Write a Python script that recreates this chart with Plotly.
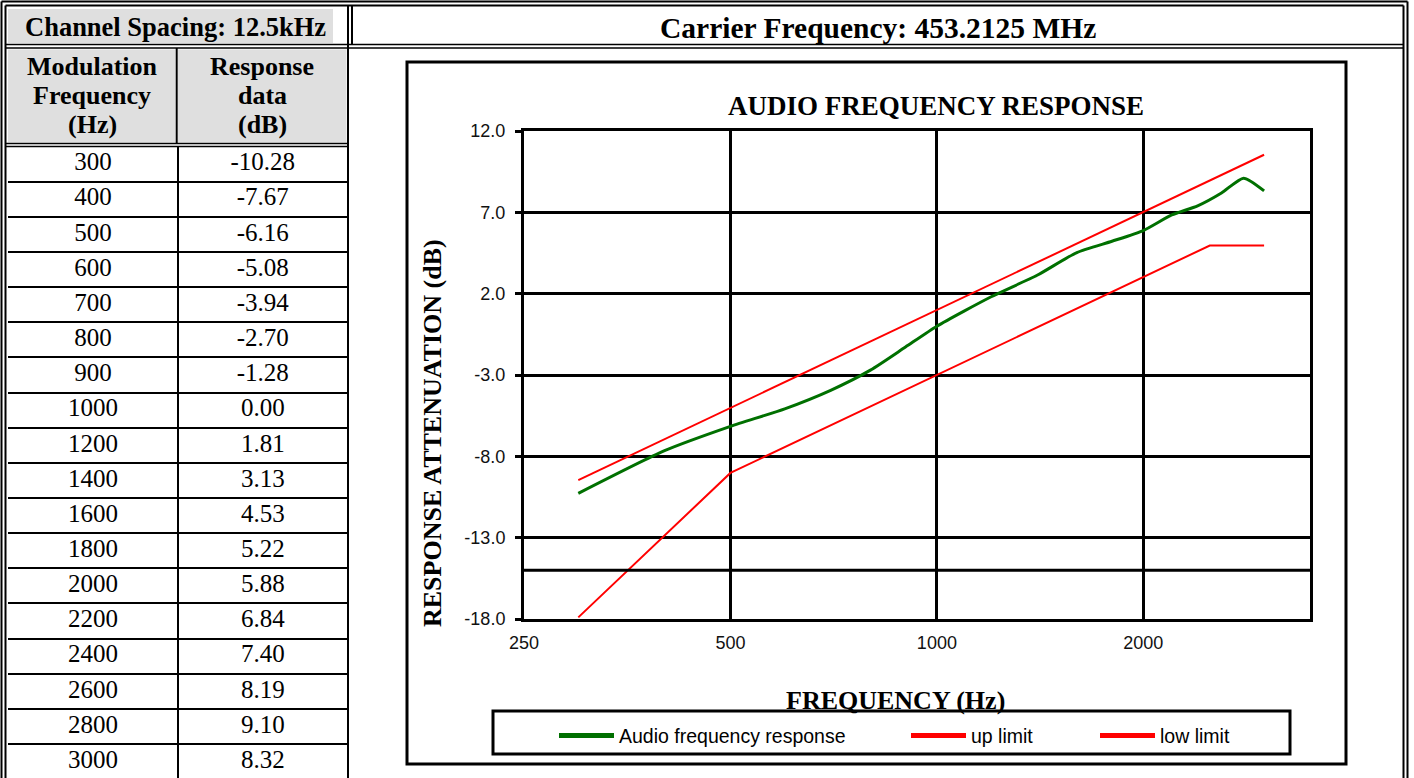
import numpy as np
import plotly.graph_objects as go

# table values (left side of the sheet)
mod_freq_hz = [300, 400, 500, 600, 700, 800, 900, 1000, 1200, 1400,
               1600, 1800, 2000, 2200, 2400, 2600, 2800, 3000]
response_db = [-10.28, -7.67, -6.16, -5.08, -3.94, -2.70, -1.28, 0.00, 1.81, 3.13,
               4.53, 5.22, 5.88, 6.84, 7.40, 8.19, 9.10, 8.32]

# limit masks
up_limit_freq_hz = [300, 3000]
up_limit_db = [-9.46, 10.54]
low_limit_freq_hz = [300, 400, 500, 2500, 3000]
low_limit_db = [-17.9, -12.9, -9.02, 4.96, 4.96]

x_ticks = [250, 500, 1000, 2000]
y_ticks = [-18, -13, -8, -3, 2, 7, 12]
extra_grid_db = [-15.0]

W, H = 1414, 778
SERIF = "Liberation Serif, Times New Roman, serif"
SANS = "Liberation Sans, Arial, sans-serif"
GRAY = "#dfdfdf"
GREEN = "#007000"
RED = "#ff0000"


def fx(px):
    return px / W


def fy(py):
    return 1 - py / H


def hline(y, x0, x1, w=2):
    return dict(type="line", xref="paper", yref="paper", x0=fx(x0), x1=fx(x1),
                y0=fy(y), y1=fy(y), line=dict(color="black", width=w))


def vline(x, y0, y1, w=2):
    return dict(type="line", xref="paper", yref="paper", x0=fx(x), x1=fx(x),
                y0=fy(y0), y1=fy(y1), line=dict(color="black", width=w))


def rect(x0, y0, x1, y1, fill=None, w=0):
    return dict(type="rect", xref="paper", yref="paper", x0=fx(x0), x1=fx(x1),
                y0=fy(y1), y1=fy(y0), fillcolor=fill or "rgba(0,0,0,0)",
                line=dict(color="black", width=w), layer="below" if fill else "above")


def label(text, x, y, size, bold=True, angle=0, family=SERIF):
    return dict(text=text, xref="paper", yref="paper", x=fx(x), y=fy(y),
                xanchor="center", yanchor="middle", showarrow=False, textangle=angle,
                font=dict(family=family, size=size, color="black",
                          weight="bold" if bold else "normal"))


fig = go.Figure()

# chart traces
fig.add_trace(go.Scatter(x=mod_freq_hz, y=response_db, mode="lines", showlegend=False,
                         line=dict(color=GREEN, width=3, shape="spline", smoothing=0.6)))
fig.add_trace(go.Scatter(x=up_limit_freq_hz, y=up_limit_db, mode="lines", showlegend=False,
                         line=dict(color=RED, width=2)))
fig.add_trace(go.Scatter(x=low_limit_freq_hz, y=low_limit_db, mode="lines", showlegend=False,
                         line=dict(color=RED, width=2)))

# legend keys drawn heavier, as in the original sheet
for name, color, leg in [("Audio frequency response", GREEN, "legend"),
                         ("up limit", RED, "legend2"),
                         ("low limit", RED, "legend3")]:
    fig.add_trace(go.Scatter(x=[None], y=[None], mode="lines", name=name, legend=leg,
                             line=dict(color=color, width=5)))

# table body as text on its own axes
n = len(mod_freq_hz)
rows = list(range(n))
fig.add_trace(go.Scatter(
    x=[0] * n + [1] * n, y=rows + rows,
    text=[str(f) for f in mod_freq_hz] + [f"{v:.2f}" for v in response_db],
    mode="text", textfont=dict(family=SERIF, size=25, color="black"),
    xaxis="x2", yaxis="y2", showlegend=False, hoverinfo="skip"))

row_h = 35.15
body_top = 146.5

shapes = [
    # header shading
    rect(8, 9, 333, 43, fill=GRAY),
    rect(8, 49.5, 175.5, 142.5, fill=GRAY),
    rect(178, 49.5, 346.5, 142.5, fill=GRAY),
    # outer double border
    vline(1.5, 1.5, H + 5), hline(1.5, 1.5, 1407.5), vline(1407.5, 1.5, H + 5),
    vline(5.5, 5.5, H + 5), hline(5.5, 5.5, 1403.5), vline(1403.5, 5.5, H + 5),
    # header separators
    hline(44.5, 5.5, 1403.5, 1.5), hline(48, 5.5, 1403.5, 1.5),
    hline(143.5, 5.5, 348, 1.5), hline(body_top, 5.5, 348, 1.5),
    vline(176.7, 48, 143.5), vline(348, 5.5, H + 5), vline(352, 5.5, 44.5),
    # chart frame and legend box
    rect(407, 62, 1346, 764, w=3),
    rect(493, 711, 1290, 754, w=3),
]
for v in extra_grid_db:
    shapes.append(dict(type="line", xref="x domain", yref="y", x0=0, x1=1, y0=v, y1=v,
                       line=dict(color="black", width=3)))

annotations = [
    label("Channel Spacing: 12.5kHz", 175, 27, 26.5),
    label("Carrier Frequency: 453.2125 MHz", 878, 28, 29.5),
    label("AUDIO FREQUENCY RESPONSE", 936, 106, 27),
    label("FREQUENCY (Hz)", 895, 700, 26),
    label("RESPONSE ATTENUATION (dB)", 432, 433, 26, angle=-90),
]
for i, (a, b) in enumerate(zip(["Modulation", "Frequency", "(Hz)"],
                               ["Response", "data", "(dB)"])):
    annotations.append(label(a, 92, 66 + 29 * i, 26))
    annotations.append(label(b, 262, 66 + 29 * i, 26))

legend_style = dict(orientation="h", xanchor="left", yanchor="middle", y=fy(735.7),
                    bgcolor="rgba(0,0,0,0)", borderwidth=0, itemwidth=55,
                    font=dict(family=SANS, size=19.5, color="black"))

fig.update_layout(
    width=W, height=H, autosize=False,
    margin=dict(l=0, r=0, t=0, b=0, pad=0, autoexpand=False),
    paper_bgcolor="white", plot_bgcolor="white",
    shapes=shapes, annotations=annotations,
    legend=dict(legend_style, x=fx(554)),
    legend2=dict(legend_style, x=fx(906)),
    legend3=dict(legend_style, x=fx(1095)),
    xaxis=dict(type="log", domain=[fx(524), fx(1310)],
               range=[np.log10(250), np.log10(3500)],
               tickvals=x_ticks, ticktext=[str(t) for t in x_ticks], ticks="",
               showgrid=True, gridcolor="black", gridwidth=3,
               showline=True, linecolor="black", linewidth=3, mirror=True,
               tickfont=dict(family=SANS, size=18, color="#111111"),
               ticklabelstandoff=5, zeroline=False, automargin=False),
    yaxis=dict(domain=[fy(619), fy(131)], range=[-18, 12],
               tickvals=y_ticks, ticktext=[f"{t:.1f}" for t in y_ticks],
               ticks="outside", ticklen=6, tickwidth=3, tickcolor="black",
               showgrid=True, gridcolor="black", gridwidth=3,
               showline=True, linecolor="black", linewidth=3, mirror=True,
               tickfont=dict(family=SANS, size=18, color="#111111"),
               ticklabelstandoff=6, zeroline=False, automargin=False),
    xaxis2=dict(domain=[fx(8), fx(347.7)], range=[-0.5, 1.5], anchor="y2",
                tickvals=[0.5], showgrid=True, gridcolor="black", gridwidth=2,
                showticklabels=False, zeroline=False, showline=False, automargin=False),
    yaxis2=dict(domain=[0, fy(body_top)],
                range=[-0.5 + (H - body_top) / row_h, -0.5], anchor="x2",
                tickvals=[r + 0.5 for r in rows], showgrid=True, gridcolor="black",
                gridwidth=2, showticklabels=False, zeroline=False, showline=False,
                automargin=False),
)

fig.write_html("out.html", config={"displayModeBar": False},
               post_script="document.body.style.margin='0';")
